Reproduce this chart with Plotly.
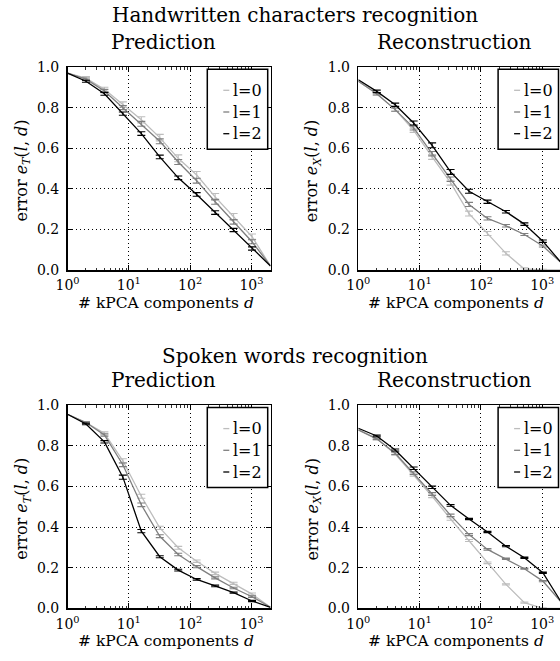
import math
import plotly.graph_objects as go

# ---------------- data ----------------
d = [1, 2, 4, 8, 16, 32, 64, 128, 256, 512, 1024, 2048]
levels = ["l=0", "l=1", "l=2"]
colors = ["#bdbdbd", "#7f7f7f", "#000000"]
x_tick_vals = [1, 10, 100, 1000]
x_tick_text = ["10<sup>0</sup>", "10<sup>1</sup>", "10<sup>2</sup>", "10<sup>3</sup>"]
y_tick_vals = [0.0, 0.2, 0.4, 0.6, 0.8, 1.0]
y_tick_text = ["0.0", "0.2", "0.4", "0.6", "0.8", "1.0"]
x_minor_vals = [2, 3, 4, 5, 6, 7, 8, 9, 20, 30, 40, 50, 60, 70, 80, 90,
                200, 300, 400, 500, 600, 700, 800, 900, 2000]

# Handwritten characters, prediction error e_T(l,d)
hw_pred_l0 = [0.970, 0.945, 0.890, 0.815, 0.740, 0.652, 0.550, 0.468, 0.360, 0.262, 0.164, 0.020]
hw_pred_l1 = [0.970, 0.940, 0.882, 0.800, 0.720, 0.634, 0.532, 0.440, 0.336, 0.237, 0.139, 0.020]
hw_pred_l2 = [0.970, 0.930, 0.868, 0.770, 0.672, 0.557, 0.454, 0.372, 0.283, 0.197, 0.106, 0.020]
hw_pred_err_l0 = [0.008, 0.010, 0.013, 0.015, 0.016, 0.017, 0.017, 0.017, 0.016, 0.013]
hw_pred_err_l1 = [0.006, 0.008, 0.010, 0.012, 0.012, 0.012, 0.012, 0.012, 0.011, 0.010]
hw_pred_err_l2 = [0.005, 0.007, 0.008, 0.009, 0.009, 0.009, 0.009, 0.009, 0.008, 0.008]

# Handwritten characters, reconstruction error e_X(l,d)
hw_rec_l0 = [0.930, 0.868, 0.790, 0.688, 0.557, 0.430, 0.278, 0.180, 0.082, 0.005, 0.000, 0.000]
hw_rec_l1 = [0.930, 0.868, 0.790, 0.700, 0.573, 0.447, 0.323, 0.254, 0.218, 0.175, 0.118, 0.035]
hw_rec_l2 = [0.937, 0.880, 0.814, 0.724, 0.614, 0.483, 0.388, 0.336, 0.287, 0.226, 0.142, 0.035]
hw_rec_err_l0 = [0.006, 0.008, 0.010, 0.012, 0.012, 0.012, 0.010, 0.008, 0.006, 0.004]
hw_rec_err_l1 = [0.006, 0.008, 0.010, 0.011, 0.011, 0.010, 0.008, 0.006, 0.005, 0.005]
hw_rec_err_l2 = [0.006, 0.008, 0.010, 0.012, 0.012, 0.010, 0.008, 0.006, 0.006, 0.006]

# Spoken words, prediction error e_T(l,d)
sw_pred_l0 = [0.956, 0.915, 0.862, 0.727, 0.552, 0.396, 0.298, 0.232, 0.172, 0.123, 0.070, 0.005]
sw_pred_l1 = [0.956, 0.915, 0.854, 0.707, 0.510, 0.355, 0.265, 0.205, 0.150, 0.100, 0.057, 0.005]
sw_pred_l2 = [0.956, 0.908, 0.820, 0.646, 0.380, 0.254, 0.188, 0.142, 0.110, 0.077, 0.036, 0.005]
sw_pred_err_l0 = [0.005, 0.007, 0.010, 0.010, 0.008, 0.007, 0.006, 0.006, 0.005, 0.005]
sw_pred_err_l1 = [0.004, 0.006, 0.009, 0.009, 0.007, 0.006, 0.005, 0.005, 0.004, 0.004]
sw_pred_err_l2 = [0.004, 0.006, 0.010, 0.008, 0.005, 0.004, 0.004, 0.004, 0.003, 0.003]

# Spoken words, reconstruction error e_X(l,d)
sw_rec_l0 = [0.879, 0.835, 0.760, 0.658, 0.552, 0.440, 0.334, 0.224, 0.118, 0.028, 0.000, 0.000]
sw_rec_l1 = [0.879, 0.835, 0.764, 0.666, 0.563, 0.458, 0.363, 0.290, 0.244, 0.195, 0.134, 0.030]
sw_rec_l2 = [0.887, 0.849, 0.780, 0.690, 0.596, 0.507, 0.440, 0.376, 0.306, 0.249, 0.175, 0.030]
sw_rec_err_l0 = [0.004, 0.006, 0.007, 0.007, 0.006, 0.005, 0.004, 0.003, 0.003, 0.002]
sw_rec_err_l1 = [0.004, 0.006, 0.007, 0.007, 0.006, 0.005, 0.004, 0.003, 0.003, 0.003]
sw_rec_err_l2 = [0.004, 0.005, 0.006, 0.006, 0.004, 0.003, 0.003, 0.003, 0.003, 0.003]

group_titles = ["Handwritten characters recognition", "Spoken words recognition"]
panel_titles = ["Prediction", "Reconstruction"]
x_title = "# kPCA components <i>d</i>"
y_titles = ["error <i>e</i><sub><i>T</i></sub>(<i>l</i>, <i>d</i>)",
            "error <i>e</i><sub><i>X</i></sub>(<i>l</i>, <i>d</i>)"]

panels = [
    ([hw_pred_l0, hw_pred_l1, hw_pred_l2], [hw_pred_err_l0, hw_pred_err_l1, hw_pred_err_l2]),
    ([hw_rec_l0, hw_rec_l1, hw_rec_l2], [hw_rec_err_l0, hw_rec_err_l1, hw_rec_err_l2]),
    ([sw_pred_l0, sw_pred_l1, sw_pred_l2], [sw_pred_err_l0, sw_pred_err_l1, sw_pred_err_l2]),
    ([sw_rec_l0, sw_rec_l1, sw_rec_l2], [sw_rec_err_l0, sw_rec_err_l1, sw_rec_err_l2]),
]

# ---------------- layout geometry (pixels) ----------------
W, H = 560, 661
PW = 203.0
col_x = [67.5, 358.3]
row_y = [67.0, 405.3]
FONT = "DejaVu Serif"
decade_px = PW / math.log10(d[-1])


def fx(p):
    return p / W


def fy(p):
    return 1 - p / H


fig = go.Figure()
layout_axes = {}
annotations = []
shapes = []

for i, (series, errs) in enumerate(panels):
    col, row = i % 2, i // 2
    x0 = col_x[col]
    y0 = row_y[row]
    x1 = min(x0 + PW, W)
    y1 = y0 + PW
    xname = "x" if i == 0 else f"x{i+1}"
    yname = "y" if i == 0 else f"y{i+1}"
    xr = (x1 - x0) / decade_px

    for k in range(3):
        fig.add_trace(go.Scatter(
            x=d, y=series[k], mode="lines", name=levels[k],
            line=dict(color=colors[k], width=1.3),
            xaxis=xname, yaxis=yname, showlegend=False, hoverinfo="skip"))
        fig.add_trace(go.Scatter(
            x=d[1:-1], y=series[k][1:-1], mode="markers", name=levels[k],
            marker=dict(opacity=0, size=2, color=colors[k]),
            error_y=dict(type="data", array=errs[k], color=colors[k],
                         thickness=1.1, width=4),
            xaxis=xname, yaxis=yname, showlegend=False, hoverinfo="skip"))

    common = dict(showline=True, linecolor="black", linewidth=1.5,
                  ticks="inside", tickcolor="black", tickwidth=1, ticklen=5,
                  showgrid=True, gridcolor="black", gridwidth=1, griddash="1px,3px",
                  zeroline=False, automargin=False,
                  tickfont=dict(family=FONT, size=14, color="black"))
    layout_axes["xaxis" if i == 0 else f"xaxis{i+1}"] = dict(
        common, domain=[fx(x0), fx(x1)], anchor=yname, type="log",
        range=[0, xr], tickmode="array", tickvals=x_tick_vals, ticktext=x_tick_text,
        mirror="ticks", ticklabelstandoff=2,
        minor=dict(tickmode="array", tickvals=x_minor_vals, ticks="inside",
                   ticklen=2.5, tickwidth=0.8, tickcolor="black", showgrid=False))
    layout_axes["yaxis" if i == 0 else f"yaxis{i+1}"] = dict(
        common, domain=[fy(y1), fy(y0)], anchor=xname, range=[0, 1],
        tickmode="array", tickvals=y_tick_vals, ticktext=y_tick_text,
        mirror="ticks" if col == 0 else False, ticklabelstandoff=4)

    # panel title, axis titles
    annotations.append(dict(text=panel_titles[col], x=fx(x0 + 96), y=fy(y0 - 25),
                            xref="paper", yref="paper", showarrow=False,
                            xanchor="center", yanchor="middle",
                            font=dict(family=FONT, size=20, color="black")))
    annotations.append(dict(text=x_title, x=fx(x0 + 98), y=fy(y1 + 33),
                            xref="paper", yref="paper", showarrow=False,
                            xanchor="center", yanchor="middle",
                            font=dict(family=FONT, size=15.5, color="black")))
    annotations.append(dict(text=y_titles[col], x=fx(x0 - 45), y=fy(y0 + 104),
                            xref="paper", yref="paper", showarrow=False,
                            textangle=-90, xanchor="center", yanchor="middle",
                            font=dict(family=FONT, size=16, color="black")))

    # legend box (drawn by hand to match the small line samples)
    shapes.append(dict(type="rect", xref="paper", yref="paper",
                       x0=fx(x0 + 139.8), x1=fx(x0 + 200.2),
                       y0=fy(y0 + 82.3), y1=fy(y0 + 2.3),
                       line=dict(color="black", width=1.5), fillcolor="white",
                       layer="above"))
    for k, ry in enumerate([23.3, 45.0, 66.7]):
        shapes.append(dict(type="line", xref="paper", yref="paper",
                           x0=fx(x0 + 155.8), x1=fx(x0 + 161.8),
                           y0=fy(y0 + ry), y1=fy(y0 + ry),
                           line=dict(color=colors[k], width=1.3), layer="above"))
        annotations.append(dict(text=levels[k], x=fx(x0 + 163.5), y=fy(y0 + ry),
                                xref="paper", yref="paper", showarrow=False,
                                xanchor="left", yanchor="middle",
                                font=dict(family=FONT, size=16, color="black")))

for row, (ty, sy) in enumerate([(15, 41), (356, 385)]):
    annotations.append(dict(text=group_titles[row], x=fx(295), y=fy(ty),
                            xref="paper", yref="paper", showarrow=False,
                            xanchor="center", yanchor="middle",
                            font=dict(family=FONT, size=20, color="black")))

fig.update_layout(
    width=W, height=H, template="none",
    margin=dict(l=0, r=0, t=0, b=0, pad=0),
    paper_bgcolor="white", plot_bgcolor="white",
    showlegend=False,
    annotations=annotations, shapes=shapes,
    **layout_axes)

fig.write_html(
    "out.html",
    config={"displayModeBar": False, "staticPlot": True},
    post_script="document.body.style.margin='0';document.body.style.padding='0';"
                "document.body.style.overflow='hidden';"
                "document.documentElement.style.overflow='hidden';")
